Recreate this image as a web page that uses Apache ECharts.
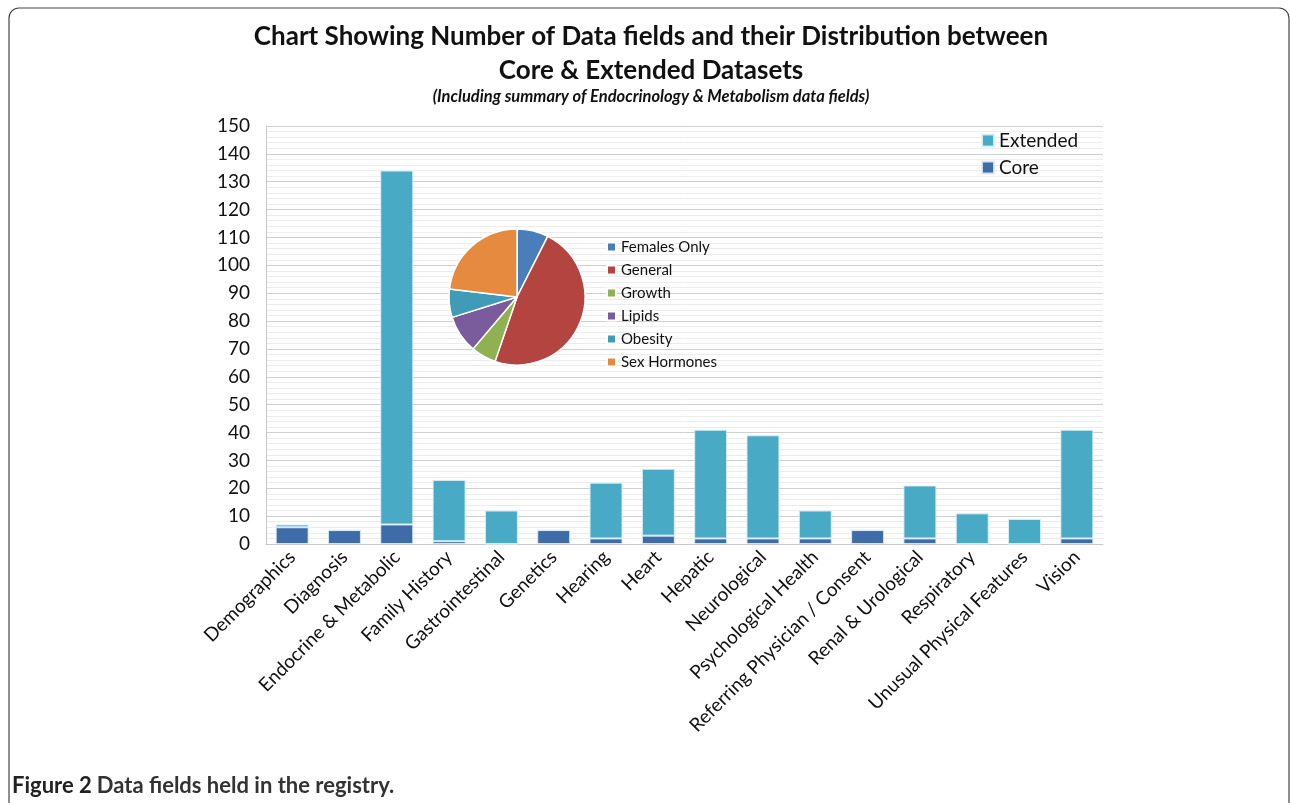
<!DOCTYPE html>
<html><head><meta charset="utf-8">
<script src="https://cdn.jsdelivr.net/npm/echarts@6/dist/echarts.min.js"></script>
<style>html,body{margin:0;padding:0;background:#fff}#c{width:1290px;height:803px}</style>
</head><body><div id="c"></div>
<script>
const categories = ['Demographics','Diagnosis','Endocrine & Metabolic','Family History','Gastrointestinal','Genetics','Hearing','Heart','Hepatic','Neurological','Psychological Health','Referring Physician / Consent','Renal & Urological','Respiratory','Unusual Physical Features','Vision'];
const coreValues = [6,5,7,1,0,5,2,3,2,2,2,5,2,0,0,2];
const extendedValues = [1,0,127,22,12,0,20,24,39,37,10,0,19,11,9,39];
const pieNames = ['Females Only','General','Growth','Lipids','Obesity','Sex Hormones'];
const pieValues = [10,64,8,12,9,31];
const pieColors = ['#4a7ebb','#b4443f','#8fb152','#7a5b9c','#3f9bb8','#e58a3f'];
const yTicks = {min:0, max:150, interval:10};
const titleLines = ['Chart Showing Number of Data fields and their Distribution between','Core & Extended Datasets'];
const subTitle = '(Including summary of Endocrinology & Metabolism data fields)';

const chart = echarts.init(document.getElementById('c'), null, {renderer:'canvas'});
const F = 'Lato, "Open Sans", sans-serif';
chart.setOption({
  animation:false,
  graphic:[
    {type:'rect', shape:{x:9,y:8,width:1280,height:810,r:10}, style:{fill:'none', stroke:'#444', lineWidth:1.2}, silent:true},
    {type:'text', x:651, y:37, style:{text:titleLines[0], textAlign:'center', textVerticalAlign:'middle', font:'bold 26px Lato, sans-serif', fill:'#111'}},
    {type:'text', x:651, y:71, style:{text:titleLines[1], textAlign:'center', textVerticalAlign:'middle', font:'bold 26px Lato, sans-serif', fill:'#111'}},
    {type:'text', x:651, y:97, style:{text:subTitle, textAlign:'center', textVerticalAlign:'middle', font:'italic bold 16.5px Lato, sans-serif', fill:'#111'}}
  ],
  title:[
    {text:'{a|Figure 2} {b|Data fields held in the registry.}', left:7, top:770,
     textStyle:{rich:{a:{fontFamily:F, fontWeight:'bold', fontSize:22, color:'#222'}, b:{fontFamily:F, fontWeight:'bold', fontSize:22, color:'#333'}}}}
  ],
  legend:[
    {data:['Extended','Core'], orient:'vertical', left:976, top:126, itemWidth:12, itemHeight:12, itemGap:8,
     textStyle:{fontFamily:F, fontSize:19, color:'#111'}, icon:'rect'},
    {data:pieNames, orient:'vertical', left:601, top:233, itemWidth:9, itemHeight:9, itemGap:5,
     textStyle:{fontFamily:F, fontSize:15, color:'#111', lineHeight:18}, icon:'rect'}
  ],
  grid:{left:266, top:126, right:187, bottom:259, containLabel:false},
  xAxis:{type:'category', data:categories,
    axisLine:{lineStyle:{color:'#c8c8c8'}}, axisTick:{show:false},
    axisLabel:{rotate:45, interval:0, margin:10, fontFamily:F, fontSize:19, color:'#111'}},
  yAxis:{type:'value', min:yTicks.min, max:yTicks.max, interval:yTicks.interval,
    axisLine:{show:true, lineStyle:{color:'#c8c8c8'}}, axisTick:{show:false},
    axisLabel:{fontFamily:F, fontSize:19, color:'#111', margin:16},
    splitLine:{lineStyle:{color:'#cfcfcf', width:1}},
    minorTick:{show:false, splitNumber:5},
    minorSplitLine:{show:true, lineStyle:{color:'#ececec'}}},
  series:[
    {name:'Core', type:'bar', stack:'s', data:coreValues, barWidth:'63%',
     itemStyle:{color:'#3d6ca8', borderColor:'rgba(220,235,245,0.9)', borderWidth:1}},
    {name:'Extended', type:'bar', stack:'s', data:extendedValues, barWidth:'63%',
     itemStyle:{color:'#48aac4', borderColor:'rgba(220,240,248,0.9)', borderWidth:1}},
    {name:'pie', type:'pie', center:[517,297], radius:68, startAngle:90, clockwise:true,
     label:{show:false}, labelLine:{show:false},
     itemStyle:{borderColor:'#fff', borderWidth:1.5},
     data:pieNames.map((n,i)=>({name:n, value:pieValues[i], itemStyle:{color:pieColors[i]}}))}
  ]
});
</script></body></html>
